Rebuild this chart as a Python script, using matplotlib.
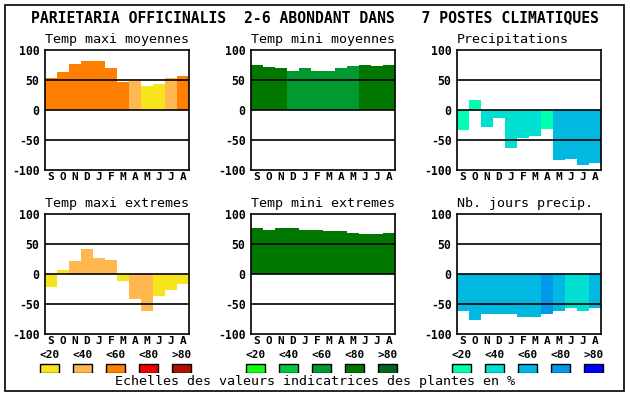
import numpy as np
import matplotlib.pyplot as plt

plt.rcParams['font.family'] = 'DejaVu Sans Mono'

months = ['S', 'O', 'N', 'D', 'J', 'F', 'M', 'A', 'M', 'J', 'J', 'A']
classes = ['<20', '<40', '<60', '<80', '>80']

temp_colors = ['#f8e41c', '#ffb850', '#ff8000', '#f00000', '#b01000']
green_colors = ['#10ff10', '#00c840', '#009a30', '#007800', '#006420']
blue_colors = ['#00ffb0', '#00e0d0', '#00b8e0', '#0098e8', '#0000ff']

# panel values (indicative value, %) and colour class index per month
tmax_moy = [53, 64, 77, 82, 82, 70, 46, 49, 40, 44, 53, 57]
tmax_moy_cls = [2, 2, 2, 2, 2, 2, 2, 1, 0, 0, 1, 2]
tmin_moy = [75, 72, 70, 65, 70, 65, 65, 70, 73, 75, 73, 75]
tmin_moy_cls = [3, 3, 3, 2, 2, 2, 2, 2, 2, 3, 3, 3]
precip = [-33, 17, -28, -13, -63, -46, -43, -31, -84, -82, -91, -88]
precip_cls = [0, 0, 1, 1, 1, 1, 1, 0, 2, 2, 2, 2]
tmax_ext = [-22, 7, 21, 41, 27, 24, -12, -41, -61, -37, -26, -16]
tmax_ext_cls = [0, 0, 1, 1, 1, 1, 0, 1, 1, 0, 0, 0]
tmin_ext = [76, 74, 76, 76, 74, 74, 72, 72, 68, 66, 66, 68]
tmin_ext_cls = [3] * 12
jours = [-62, -76, -67, -66, -66, -72, -71, -67, -61, -56, -61, -56]
jours_cls = [2, 2, 2, 2, 2, 2, 2, 3, 2, 1, 1, 2]

panels = [
    ('Temp maxi moyennes', tmax_moy, tmax_moy_cls, temp_colors, 45, 50),
    ('Temp mini moyennes', tmin_moy, tmin_moy_cls, green_colors, 251, 50),
    ('Precipitations', precip, precip_cls, blue_colors, 457, 50),
    ('Temp maxi extremes', tmax_ext, tmax_ext_cls, temp_colors, 45, 214),
    ('Temp mini extremes', tmin_ext, tmin_ext_cls, green_colors, 251, 214),
    ('Nb. jours precip.', jours, jours_cls, blue_colors, 457, 214),
]

W, H = 630, 394
fig = plt.figure(figsize=(6.3, 3.94), dpi=100)

def fx(px):
    return px / W

def fy(px):
    return 1 - px / H

# outer frame
fig.patches.append(plt.Rectangle((fx(4.5), fy(390.5)), fx(619), 386 / H,
                                 transform=fig.transFigure, fill=False,
                                 edgecolor='black', linewidth=1.2))

fig.text(fx(315), fy(18), 'PARIETARIA OFFICINALIS  2-6 ABONDANT DANS   7 POSTES CLIMATIQUES',
         ha='center', va='center', fontsize=10.6, fontweight='bold')

x = np.arange(12)
for title, vals, cls, pal, left, top in panels:
    ax = fig.add_axes([fx(left), fy(top + 120), 144 / W, 120 / H])
    ax.bar(x, vals, width=1.0, color=[pal[c] for c in cls], linewidth=0)
    for yy in (50, 0, -50):
        ax.axhline(yy, color='black', linewidth=1.2)
    ax.set_xlim(-0.5, 11.5)
    ax.set_ylim(-100, 100)
    ax.set_yticks([100, 50, 0, -50, -100])
    ax.set_yticklabels(['100', '50', '0', '-50', '-100'], fontweight='bold', fontsize=8.3)
    ax.set_xticks(x)
    ax.set_xticklabels(months, fontweight='bold', fontsize=8)
    ax.tick_params(length=0, pad=4)
    ax.tick_params(axis='x', pad=1.5)
    for s in ax.spines.values():
        s.set_linewidth(1.2)
    ax.text(0, 1.03, title, transform=ax.transAxes, ha='left', va='bottom', fontsize=9.6)

# legend rows
groups = [(temp_colors, 33), (green_colors, 239), (blue_colors, 445)]
for pal, left in groups:
    lax = fig.add_axes([fx(left), fy(373), 165 / W, 27 / H])
    lax.bar(np.arange(5), [1] * 5, width=0.6, color=pal, edgecolor='black', linewidth=1)
    lax.set_xlim(-0.5, 4.5)
    lax.set_ylim(0, 3)
    for i, lab in enumerate(classes):
        lax.text(i, 1.95, lab, ha='center', va='center', fontsize=8, fontweight='bold')
    lax.axis('off')

fig.text(fx(315), fy(382), 'Echelles des valeurs indicatrices des plantes en %',
         ha='center', va='center', fontsize=9.6)

fig.savefig('out.png', dpi=100)
